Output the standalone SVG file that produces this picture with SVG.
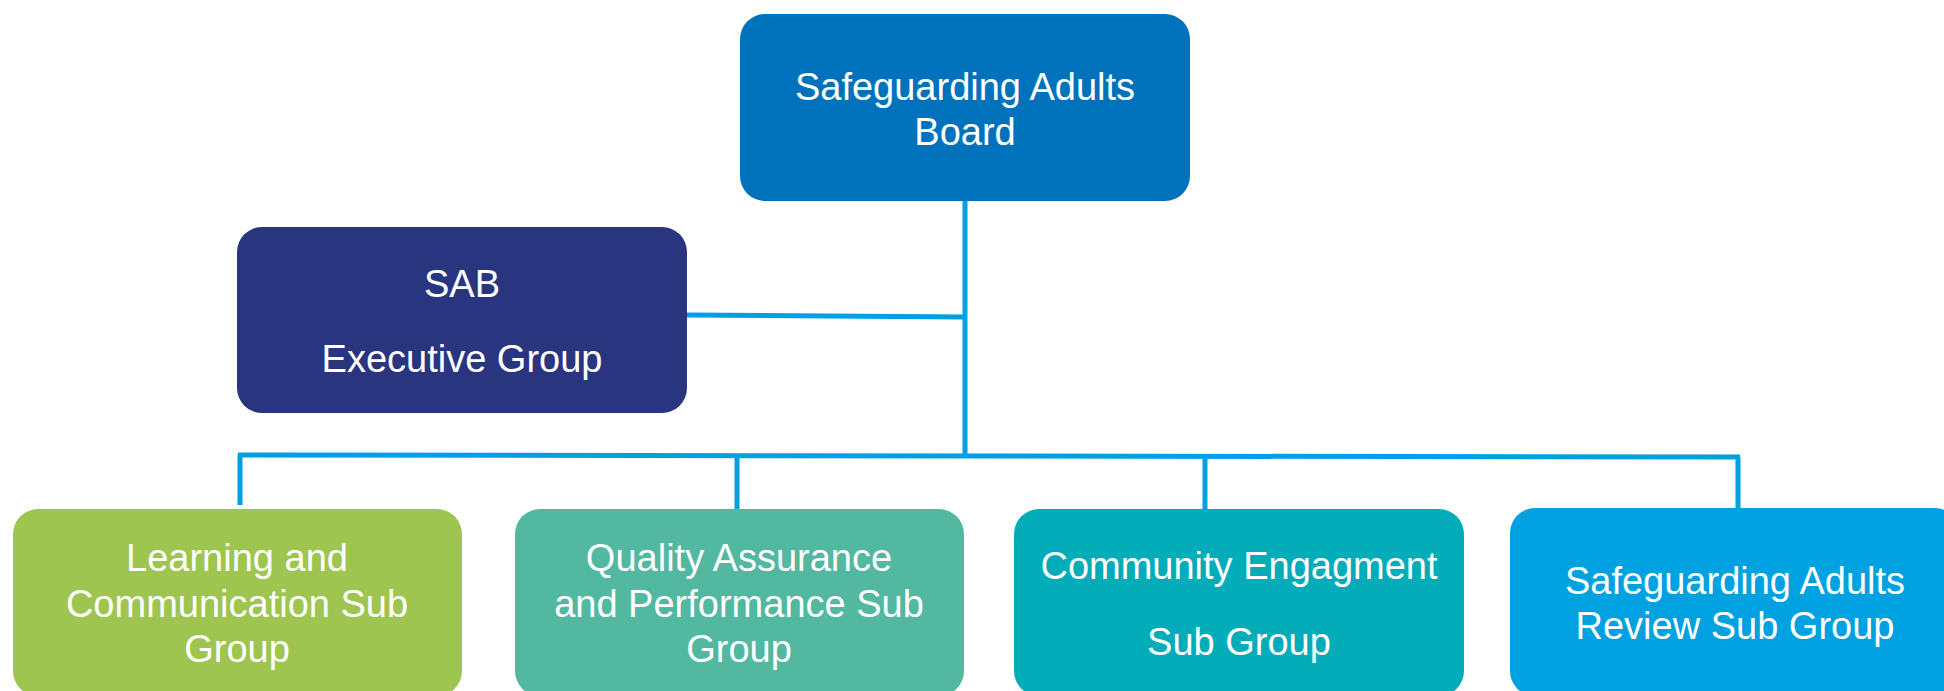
<svg xmlns="http://www.w3.org/2000/svg" width="1944" height="691" viewBox="0 0 1944 691">
<style>
.lbl { font-family: "Liberation Sans", Arial, Helvetica, sans-serif; font-size: 38px; fill: #ffffff; text-anchor: middle; }
.conn { stroke: #00A0E3; stroke-width: 5; fill: none; }
</style>
<rect x="0" y="0" width="1944" height="691" fill="#ffffff"/>
<g id="connectors">
<path class="conn" d="M965 201 V456"/>
<path class="conn" d="M687 315 L965 317"/>
<path class="conn" d="M238 455 L1740 457"/>
<path class="conn" d="M240 455 V505"/>
<path class="conn" d="M737 455 V510"/>
<path class="conn" d="M1205 456 V509"/>
<path class="conn" d="M1738 457 V509"/>
</g>
<g id="board" class="node">
<rect x="740" y="14" width="450" height="187" rx="25" fill="#0072BC"/>
<text class="lbl" x="965" y="100">Safeguarding Adults</text>
<text class="lbl" x="965" y="145">Board</text>
</g>
<g id="exec" class="node">
<rect x="237" y="227" width="450" height="186" rx="25" fill="#2A3580"/>
<text class="lbl" x="462" y="297">SAB</text>
<text class="lbl" x="462" y="372">Executive Group</text>
</g>
<g id="learning" class="node">
<rect x="13" y="509" width="449" height="187" rx="25" fill="#9EC550"/>
<text class="lbl" x="237" y="571">Learning and</text>
<text class="lbl" x="237" y="617">Communication Sub</text>
<text class="lbl" x="237" y="662">Group</text>
</g>
<g id="quality" class="node">
<rect x="515" y="509" width="449" height="187" rx="25" fill="#52B89F"/>
<text class="lbl" x="739" y="571">Quality Assurance</text>
<text class="lbl" x="739" y="617">and Performance Sub</text>
<text class="lbl" x="739" y="662">Group</text>
</g>
<g id="community" class="node">
<rect x="1014" y="509" width="450" height="187" rx="25" fill="#02ADB9"/>
<text class="lbl" x="1239" y="579">Community Engagment</text>
<text class="lbl" x="1239" y="655">Sub Group</text>
</g>
<g id="review" class="node">
<rect x="1510" y="508" width="450" height="188" rx="25" fill="#00A1E1"/>
<text class="lbl" x="1735" y="594">Safeguarding Adults</text>
<text class="lbl" x="1735" y="639">Review Sub Group</text>
</g>
</svg>
